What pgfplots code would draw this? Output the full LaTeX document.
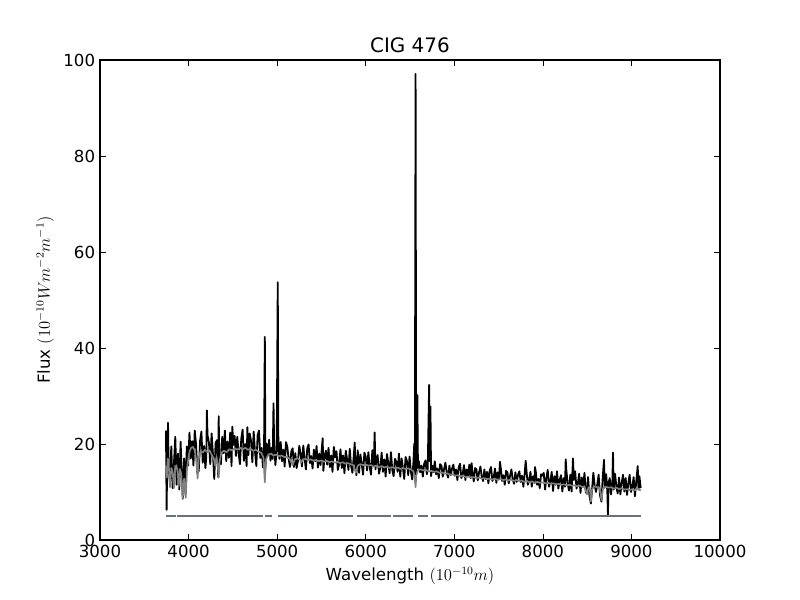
\documentclass[border=0pt]{standalone}
\usepackage{pgfplots}
\pgfplotsset{compat=1.18}
\usepackage{fontspec}
\setmainfont{DejaVu Sans}
\definecolor{maskc}{RGB}{100,116,125}
\definecolor{modelc}{RGB}{128,128,128}
\begin{document}
\begin{tikzpicture}
\useasboundingbox (-1in,-0.6in) rectangle (7in,5.4in);
\begin{axis}[
  at={(0,0)}, anchor=south west,
  scale only axis, width=6.2in, height=4.8in,
  xmin=3000, xmax=10000, ymin=0, ymax=100,
  xtick={3000,4000,5000,6000,7000,8000,9000,10000},
  ytick={0,20,40,60,80,100},
  scaled x ticks=false,
  /pgf/number format/1000 sep={},
  /pgf/number format/assume math mode=true,
  tick label style={font=\fontsize{12}{14}\selectfont},
  label style={font=\fontsize{12}{14}\selectfont},
  title style={font=\fontsize{14.4}{17}\selectfont, yshift=-4pt},
  title={CIG 476},
  xlabel={Wavelength $(10^{-10}m)$},
  ylabel={Flux $(10^{-10}Wm^{-2}m^{-1})$},
  tick align=inside,
  major tick length=4pt,
  minor tick num=0,
  axis line style={line width=0.8pt},
  every tick/.style={black, line width=0.5pt},
  unbounded coords=jump,
]
% observed spectrum
\addplot[black, line width=1.3pt, line join=round, mark=none] table {
3745 22.8
3752 6.3
3760 17.5
3768 24.4
3775 15.0
3790 12.0
3805 19.5
3820 10.8
3835 16.0
3850 21.5
3865 11.5
3880 18.0
3895 10.5
3910 20.5
3925 13.0
3935 8.6
3950 17.0
3965 9.5
3980 19.5
3995 15.5
4010 22.4
4025 17.0
4040 20.6
4055 15.5
4070 22.8
4085 19.8
4100 13.9
4115 14.4
4130 20.7
4145 22.6
4160 16.1
4175 19.6
4190 15.0
4200 17.3
4207 27.0
4214 21.8
4230 20.3
4245 15.8
4260 22.2
4275 18.0
4290 12.7
4305 20.2
4320 20.8
4335 13.1
4340 25.8
4347 17.4
4365 15.8
4380 21.5
4395 18.1
4410 22.8
4425 16.4
4440 20.5
4455 17.1
4470 22.4
4485 15.4
4494 23.6
4505 19.8
4520 21.7
4535 17.5
4550 21.5
4565 18.1
4580 15.8
4595 21.1
4610 23.0
4625 16.5
4640 20.0
4655 15.4
4664 23.5
4675 17.7
4690 22.2
4705 20.7
4720 16.2
4735 22.6
4750 18.4
4765 15.4
4780 21.9
4795 22.8
4810 17.1
4825 19.2
4840 15.1
4852 18.5
4861 42.3
4868 15.0
4880 20.1
4895 17.6
4910 20.9
4925 16.5
4940 19.2
4950 16.9
4959 28.5
4966 20.5
4980 15.6
4995 18.6
5007 53.7
5014 19.9
5025 16.9
5040 20.4
5055 16.4
5070 18.8
5085 15.3
5100 20.4
5115 19.4
5130 16.9
5145 15.2
5160 18.5
5175 19.1
5190 15.2
5205 18.1
5220 15.0
5235 16.5
5250 19.6
5265 18.0
5280 15.3
5295 19.7
5310 16.9
5325 14.7
5340 19.1
5355 19.9
5370 16.0
5385 17.5
5400 14.9
5415 18.8
5430 16.4
5445 19.6
5460 15.1
5475 18.0
5490 15.6
5505 19.2
5514 21.2
5522 14.4
5535 17.4
5550 18.6
5565 15.7
5580 19.2
5595 15.2
5610 17.6
5625 14.2
5640 19.4
5655 17.2
5670 18.5
5685 14.6
5700 15.8
5715 18.9
5730 15.0
5745 17.6
5760 13.9
5775 18.6
5790 16.8
5805 14.6
5820 19.0
5835 15.4
5850 14.0
5865 17.5
5876 20.3
5884 15.3
5895 13.5
5910 18.7
5925 14.0
5940 17.8
5955 15.9
5970 13.6
5985 18.2
6000 17.4
6015 14.5
6030 18.3
6045 15.2
6060 13.6
6075 18.7
6090 15.5
6101 22.4
6110 14.7
6120 16.5
6135 17.7
6150 13.8
6165 15.1
6180 18.2
6195 14.2
6210 16.8
6225 13.2
6240 17.9
6255 16.0
6270 13.9
6285 18.3
6300 14.6
6315 13.3
6330 16.9
6345 16.3
6360 14.2
6375 18.0
6390 13.2
6405 17.0
6420 15.1
6435 12.7
6450 17.3
6465 16.5
6480 13.5
6495 17.4
6510 14.3
6525 12.6
6540 16.6
6548 20.1
6555 13.5
6563 97.1
6570 14.0
6583 30.2
6590 15.0
6600 16.4
6615 14.1
6630 15.5
6645 13.2
6660 15.9
6675 16.6
6690 13.7
6700 14.6
6716 32.3
6723 16.4
6731 27.8
6738 13.3
6750 15.5
6765 14.1
6780 16.4
6795 13.7
6810 14.9
6825 12.9
6840 15.8
6855 15.5
6870 13.2
6885 14.8
6900 16.1
6915 14.0
6930 13.0
6945 15.5
6960 13.5
6975 14.9
6990 15.7
7005 13.4
7020 14.7
7035 12.5
7050 15.2
7065 15.9
7080 12.9
7095 13.8
7110 15.6
7125 12.5
7140 14.7
7155 13.3
7170 15.7
7185 12.9
7196 16.0
7205 14.1
7220 12.2
7235 15.0
7250 14.7
7265 12.4
7280 14.1
7295 15.3
7310 13.2
7325 12.3
7340 14.7
7355 12.7
7370 14.2
7385 11.8
7400 14.5
7415 15.2
7430 12.3
7445 13.1
7460 14.9
7475 11.9
7490 14.1
7505 12.7
7516 16.3
7525 15.0
7540 12.3
7555 13.5
7570 11.5
7585 14.4
7600 14.1
7615 11.8
7630 13.4
7645 14.7
7660 12.6
7675 11.7
7690 14.1
7705 12.1
7720 13.6
7735 14.3
7750 12.1
7765 13.4
7780 11.1
7795 13.8
7806 16.5
7815 14.5
7830 11.5
7845 12.4
7860 14.2
7875 11.1
7890 13.3
7905 11.9
7911 15.2
7920 14.3
7935 11.5
7950 12.7
7965 10.8
7980 13.7
7995 13.4
8010 14.0
8025 10.5
8040 12.9
8055 14.6
8070 11.1
8085 12.2
8100 14.2
8115 10.2
8130 13.3
8145 11.5
8160 14.3
8175 10.7
8190 12.5
8205 13.5
8220 10.1
8235 12.9
8250 11.1
8258 16.8
8266 14.4
8280 11.8
8295 10.3
8310 13.6
8325 10.1
8340 17.0
8350 12.5
8365 14.3
8380 10.7
8395 11.8
8410 13.8
8425 9.8
8440 13.0
8455 11.2
8470 14.0
8485 9.9
8498 10.0
8510 13.1
8525 9.4
8542 7.6
8555 10.4
8570 14.0
8585 11.4
8600 10.0
8615 11.6
8630 13.6
8645 9.3
8662 8.0
8675 12.7
8690 16.7
8700 10.9
8715 13.7
8728 10.1
8735 5.3
8742 11.9
8755 12.9
8770 9.5
8785 12.3
8792 18.2
8800 10.5
8815 13.8
8830 11.1
8845 9.7
8860 13.0
8875 9.5
8890 11.9
8905 13.6
8920 10.1
8935 12.9
8950 9.4
8965 11.8
8980 13.6
8995 10.0
9010 11.1
9025 13.1
9040 9.1
9055 12.3
9071 15.4
9080 10.5
9090 13.3
9105 10.8
};
% model spectrum
\addplot[modelc, line width=1.2pt, line join=round, mark=none] table {
3745 15.5
3755 13.0
3765 17.0
3775 16.0
3790 11.0
3805 15.0
3820 14.2
3835 10.8
3848 14.8
3862 15.6
3876 14.2
3889 11.2
3902 14.8
3918 13.8
3934 8.6
3950 12.8
3968 8.8
3982 14.8
3998 17.0
4012 18.5
4030 19.2
4050 19.4
4070 18.6
4088 16.5
4102 12.8
4115 17.0
4135 18.5
4160 18.2
4185 18.8
4210 18.3
4235 18.7
4260 17.8
4285 17.0
4300 15.5
4315 17.3
4330 15.5
4340 13.0
4352 16.5
4370 18.2
4400 18.6
4430 18.3
4460 18.9
4490 18.7
4520 19.1
4550 18.8
4580 19.2
4610 18.9
4640 19.2
4670 18.8
4700 19.0
4730 18.6
4760 18.8
4790 18.4
4820 18.2
4845 17.2
4861 12.0
4875 16.8
4900 17.8
4930 18.0
4960 17.6
4990 17.8
5020 17.5
5050 17.6
5080 17.3
5110 17.3
5140 16.9
5175 15.6
5200 16.8
5230 17.0
5260 16.7
5270 16.1
5290 16.8
5320 16.9
5350 16.6
5380 16.8
5410 16.5
5440 16.7
5470 16.4
5500 16.6
5530 16.3
5560 16.5
5590 16.2
5620 16.4
5650 16.1
5680 16.3
5710 16.0
5740 16.2
5770 15.9
5800 16.0
5830 15.8
5860 15.6
5890 14.0
5910 15.5
5940 15.8
5970 15.6
6000 15.7
6030 15.5
6060 15.6
6090 15.3
6120 15.5
6150 15.2
6180 15.4
6210 15.1
6240 15.3
6270 15.0
6300 15.2
6330 14.9
6360 15.1
6390 14.8
6420 15.0
6450 14.8
6480 14.9
6510 14.7
6540 14.3
6555 12.5
6563 11.0
6572 13.5
6590 14.6
6620 14.7
6650 14.5
6680 14.6
6710 14.3
6740 14.4
6770 14.2
6800 14.3
6830 14.0
6860 14.1
6890 13.8
6920 13.9
6950 13.6
6980 13.7
7010 13.4
7040 13.5
7070 13.3
7100 13.4
7130 13.1
7160 13.2
7190 13.0
7220 13.1
7250 12.9
7280 13.0
7310 12.8
7340 12.9
7370 12.7
7400 12.8
7430 12.6
7460 12.8
7490 12.5
7520 12.7
7550 12.5
7580 12.6
7610 12.4
7640 12.6
7670 12.3
7700 12.5
7730 12.3
7760 12.4
7790 12.1
7820 12.3
7850 12.0
7880 12.2
7910 11.9
7940 12.1
7970 11.9
8000 12.0
8030 11.8
8060 11.9
8090 11.7
8120 11.8
8150 11.6
8180 11.7
8210 11.5
8240 11.6
8270 11.4
8300 11.5
8330 11.3
8360 11.4
8390 11.2
8420 11.3
8450 11.0
8470 11.2
8498 9.5
8515 11.0
8530 10.8
8542 8.0
8555 10.5
8580 11.2
8610 11.0
8640 10.9
8662 8.3
8680 10.8
8710 11.1
8740 10.9
8770 11.0
8800 10.7
8830 10.9
8860 10.6
8890 10.8
8920 10.5
8950 10.6
8980 10.4
9010 10.6
9040 10.3
9060 10.9
9080 10.6
9105 10.3
};
% mask
\addplot[maskc, line width=1.5pt, line cap=butt, mark=none] coordinates {
(3745,5) (3858,5) (3864,nan)
(3870,5) (4844,5) (4850,nan)
(4862,5) (4938,5) (4950,nan)
(5006,5) (5860,5) (5880,nan)
(5905,5) (6282,5) (6290,nan)
(6311,5) (6529,5) (6540,nan)
(6594,5) (6699,5) (6710,nan)
(6737,5) (9105,5)
};
\end{axis}
\end{tikzpicture}
\end{document}
